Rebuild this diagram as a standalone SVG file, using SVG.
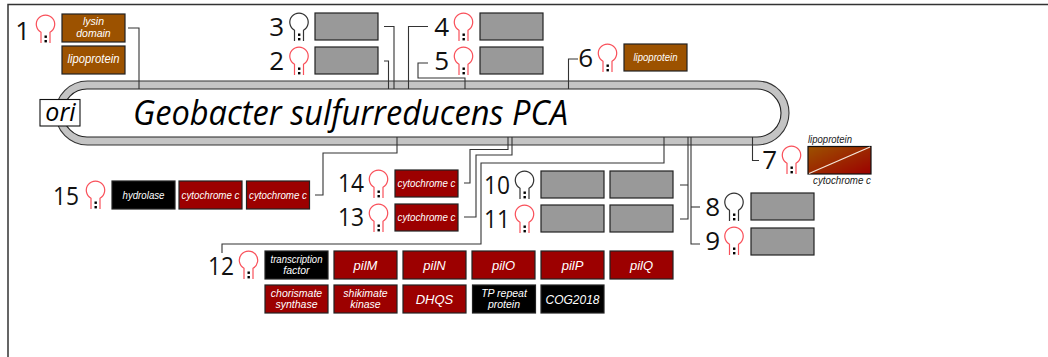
<svg xmlns="http://www.w3.org/2000/svg" width="1048" height="357" viewBox="0 0 1048 357">
<style>
text{font-family:"Liberation Sans",Arial,sans-serif}
.n{font-family:"Open Sans","Noto Sans",sans-serif;font-size:26px;fill:#111;text-anchor:end}
.box{stroke:#222;stroke-width:1.2}
.brown{fill:#9c5200}.red{fill:#9c0000}.blk{fill:#000}.gray{fill:#999}
.t{fill:#fff;font-style:italic;font-size:10.5px;text-anchor:middle}
.b{font-size:13px}
.con path{fill:none;stroke:#333;stroke-width:1.1}
.hr{fill:#fff;stroke:#f9505a;stroke-width:1.2}
.hk{fill:#fff;stroke:#333;stroke-width:1.2}
</style>
<defs>
<linearGradient id="grad" x1="0" y1="0" x2="1" y2="1"><stop offset="0" stop-color="#9c5200"/><stop offset="1" stop-color="#9c0000"/></linearGradient>
<g id="dots"><rect x="-1" y="20.5" width="2.4" height="2.4" fill="#000"/><rect x="-1" y="25" width="2.4" height="2.4" fill="#000"/></g>
<g id="hred"><path class="hr" d="M-4.5 28V17.3A9.2 9.2 0 1 1 4.5 17.3V28" /><use href="#dots"/></g>
<g id="hblk"><path class="hk" d="M-4.5 28V17.3A9.2 9.2 0 1 1 4.5 17.3V28" /><use href="#dots"/></g>
</defs>
<rect width="1048" height="357" fill="#fff"/>
<path d="M8 357V4.5H1048" fill="none" stroke="#333" stroke-width="1.5"/>
<g id="plasmid">
<rect x="55.500" y="81" width="733.500" height="64" rx="32" fill="#c4c4c4" stroke="#333" stroke-width="1.1"/>
<rect x="63" y="89" width="718" height="48" rx="24" fill="#fff" stroke="#222" stroke-width="1.1"/>
<text x="133" y="125" font-size="34" font-style="italic" fill="#000" style="font-family:'Open Sans','Noto Sans',sans-serif" textLength="435" lengthAdjust="spacingAndGlyphs">Geobacter sulfurreducens PCA</text>
</g>
<g id="ori"><rect x="40" y="99.500" width="40" height="26.500" fill="#fff" stroke="#111" stroke-width="1.1"/><text x="60.500" y="121" font-size="25" font-style="italic" text-anchor="middle" fill="#000" style="font-family:'Open Sans','Noto Sans',sans-serif">ori</text></g>
<g id="connectors" class="con">
<path d="M128 28H139V89"/>
<path d="M384 26.500H394V89"/>
<path d="M384 61H388.500V89"/>
<path d="M428 26.500H408.500V89"/>
<path d="M428 63H418V78H465V89"/>
<path d="M578 59H568.500V89"/>
<path d="M752.500 137V160.500H759"/>
<path d="M691 137V244H700"/>
<path d="M691 207H700"/>
<path d="M688 137V219H680M688 185H680"/>
<path d="M315 195H323V153H397V137"/>
<path d="M464 183H470V149.500H508V137"/>
<path d="M464 217H476V155H512V137"/>
<path d="M222 253V244H481V163H664V137"/>
</g>
<g id="n1"><text class="n" x="30" y="40">1</text><use href="#hred" x="45.500" y="15"/>
<rect class="box brown" x="62" y="14" width="63" height="28"/><text class="t" x="93.500" y="25">lysin</text><text class="t" x="93.500" y="37">domain</text>
<rect class="box brown" x="62" y="46" width="63" height="28"/><text class="t" x="93.500" y="63" style="font-size:12px" textLength="52" lengthAdjust="spacingAndGlyphs">lipoprotein</text></g>
<g id="n2"><text class="n" x="284" y="70">2</text><use href="#hred" x="299" y="47"/><rect class="box gray" x="315" y="47" width="63" height="27"/></g>
<g id="n3"><text class="n" x="284" y="36">3</text><use href="#hblk" x="299" y="13"/><rect class="box gray" x="315" y="13" width="63" height="27"/></g>
<g id="n4"><text class="n" x="449" y="36">4</text><use href="#hred" x="463.500" y="13"/><rect class="box gray" x="480" y="13" width="63" height="27"/></g>
<g id="n5"><text class="n" x="449" y="70">5</text><use href="#hred" x="463.500" y="47"/><rect class="box gray" x="480" y="47" width="63" height="27"/></g>
<g id="n6"><text class="n" x="593" y="67">6</text><use href="#hred" x="607.500" y="44"/><rect class="box brown" x="624" y="44" width="63" height="27"/><text class="t" x="655.500" y="61" textLength="44" lengthAdjust="spacingAndGlyphs">lipoprotein</text></g>
<g id="n7"><text class="n" x="777" y="169">7</text><use href="#hred" x="791.500" y="146"/><rect x="808" y="146.500" width="63" height="27.500" fill="url(#grad)" stroke="#111" stroke-width="1.2"/><path d="M809 173.500L870 147" stroke="#f5e6d8" stroke-width="1.3"/>
<text x="808" y="143" font-size="10.500" font-style="italic" fill="#222" textLength="44" lengthAdjust="spacingAndGlyphs">lipoprotein</text><text x="813" y="184" font-size="10.500" font-style="italic" fill="#222" textLength="58" lengthAdjust="spacingAndGlyphs">cytochrome c</text></g>
<g id="n8"><text class="n" x="720" y="216">8</text><use href="#hblk" x="734" y="193"/><rect class="box gray" x="751" y="193" width="63" height="27"/></g>
<g id="n9"><text class="n" x="720" y="250">9</text><use href="#hred" x="734" y="227"/><rect class="box gray" x="751" y="228" width="63" height="27"/></g>
<g id="n10"><text class="n" x="510" y="194" textLength="26" lengthAdjust="spacingAndGlyphs">10</text><use href="#hblk" x="524.500" y="171"/><rect class="box gray" x="541" y="171" width="63" height="27"/><rect class="box gray" x="610" y="171" width="63" height="27"/></g>
<g id="n11"><text class="n" x="510" y="228" textLength="26" lengthAdjust="spacingAndGlyphs">11</text><use href="#hred" x="524.500" y="205"/><rect class="box gray" x="541" y="205" width="63" height="27"/><rect class="box gray" x="610" y="205" width="63" height="27"/></g>
<g id="n12"><text class="n" x="234" y="275" textLength="26" lengthAdjust="spacingAndGlyphs">12</text><use href="#hred" x="248.500" y="251"/>
<rect class="box blk" x="265" y="251" width="63" height="28"/><text class="t" x="296.500" y="263" textLength="52" lengthAdjust="spacingAndGlyphs">transcription</text><text class="t" x="296.500" y="274">factor</text>
<rect class="box red" x="334" y="251" width="63" height="28"/><text class="t b" x="365.500" y="269.500">pilM</text>
<rect class="box red" x="403" y="251" width="63" height="28"/><text class="t b" x="434.500" y="269.500">pilN</text>
<rect class="box red" x="472" y="251" width="63" height="28"/><text class="t b" x="503.500" y="269.500">pilO</text>
<rect class="box red" x="541" y="251" width="63" height="28"/><text class="t b" x="572.500" y="269.500">pilP</text>
<rect class="box red" x="610" y="251" width="63" height="28"/><text class="t b" x="641.500" y="269.500">pilQ</text>
<rect class="box red" x="265" y="285" width="63" height="28"/><text class="t" x="296.500" y="297">chorismate</text><text class="t" x="296.500" y="307.500">synthase</text>
<rect class="box red" x="334" y="285" width="63" height="28"/><text class="t" x="365.500" y="297">shikimate</text><text class="t" x="365.500" y="307.500">kinase</text>
<rect class="box red" x="403" y="285" width="63" height="28"/><text class="t b" x="434.500" y="303.500">DHQS</text>
<rect class="box blk" x="472.500" y="285" width="63" height="28"/><text class="t" x="504" y="297">TP repeat</text><text class="t" x="504" y="307.500">protein</text>
<rect class="box blk" x="541" y="285" width="63" height="28"/><text class="t b" x="572.500" y="303.500" textLength="54" lengthAdjust="spacingAndGlyphs">COG2018</text></g>
<g id="n13"><text class="n" x="364" y="226" textLength="26" lengthAdjust="spacingAndGlyphs">13</text><use href="#hred" x="378.500" y="204"/><rect class="box red" x="395" y="204" width="63" height="27"/><text class="t" x="426.500" y="221" textLength="58" lengthAdjust="spacingAndGlyphs">cytochrome c</text></g>
<g id="n14"><text class="n" x="364" y="192" textLength="26" lengthAdjust="spacingAndGlyphs">14</text><use href="#hred" x="378.500" y="170"/><rect class="box red" x="395" y="170" width="63" height="27"/><text class="t" x="426.500" y="187" textLength="58" lengthAdjust="spacingAndGlyphs">cytochrome c</text></g>
<g id="n15"><text class="n" x="79" y="205" textLength="26" lengthAdjust="spacingAndGlyphs">15</text><use href="#hred" x="95.500" y="181"/>
<rect class="box blk" x="112" y="181" width="63" height="28"/><text class="t" x="143.500" y="199" textLength="42" lengthAdjust="spacingAndGlyphs">hydrolase</text>
<rect class="box red" x="179" y="181" width="63" height="28"/><text class="t" x="210.500" y="199" textLength="58" lengthAdjust="spacingAndGlyphs">cytochrome c</text>
<rect class="box red" x="246.500" y="181" width="63" height="28"/><text class="t" x="278" y="199" textLength="58" lengthAdjust="spacingAndGlyphs">cytochrome c</text></g>
</svg>
